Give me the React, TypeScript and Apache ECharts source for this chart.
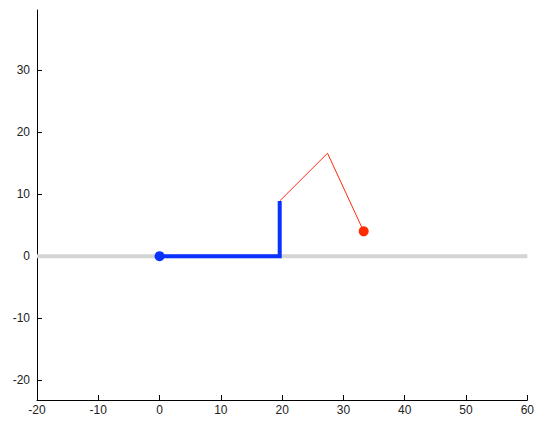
import React, { useEffect, useRef } from "react";
import * as echarts from "echarts";

const xTicks = [-20, -10, 0, 10, 20, 30, 40, 50, 60];
const yTicks = [-20, -10, 0, 10, 20, 30];
const xMin = -20;
const xMax = 60;
const yMin = -23.2;
const yMax = 39.7;
const baseline: [number, number][] = [[-20, 0], [60, 0]];
const bluePath: [number, number][] = [[0, 0], [19.6, 0], [19.6, 8.9]];
const redPath: [number, number][] = [[19.6, 8.9], [27.4, 16.6], [33.3, 4.0]];
const blueDot: [number, number][] = [[0, 0]];
const redDot: [number, number][] = [[33.3, 4.0]];

const TICK = 5;

export default function App() {
  const ref = useRef<HTMLDivElement>(null);
  useEffect(() => {
    if (!ref.current) return;
    const chart = echarts.init(ref.current, undefined, { renderer: "svg" });
    const font = { fontFamily: "Liberation Sans, Arial, sans-serif", fontSize: 12, color: "#222" };
    chart.setOption({
      animation: false,
      backgroundColor: "#fff",
      grid: { left: 37, right: 9, top: 10, bottom: 21 },
      xAxis: {
        type: "value",
        min: xMin,
        max: xMax,
        interval: 10,
        axisLine: { show: true, onZero: false, lineStyle: { color: "#000", width: 1 } },
        axisTick: { show: true, inside: true, length: TICK, customValues: xTicks, lineStyle: { color: "#000", width: 1 } },
        axisLabel: { ...font, margin: 4, customValues: xTicks },
        splitLine: { show: false },
      },
      yAxis: {
        type: "value",
        min: yMin,
        max: yMax,
        axisLine: { show: true, onZero: false, lineStyle: { color: "#000", width: 1 } },
        axisTick: { show: true, inside: true, length: TICK, customValues: yTicks, lineStyle: { color: "#000", width: 1 } },
        axisLabel: { ...font, margin: 7, customValues: yTicks },
        splitLine: { show: false },
      },
      series: [
        {
          type: "line",
          data: baseline,
          symbol: "none",
          lineStyle: { color: "#d4d4d4", width: 4 },
          z: 1,
        },
        {
          type: "line",
          data: redPath,
          symbol: "none",
          lineStyle: { color: "#ff2a10", width: 1 },
          z: 2,
        },
        {
          type: "line",
          data: bluePath,
          symbol: "none",
          lineStyle: { color: "#0a32ff", width: 4, join: "miter" },
          z: 3,
        },
        {
          type: "scatter",
          data: blueDot,
          symbolSize: 10,
          itemStyle: { color: "#0a32ff", opacity: 1 },
          z: 4,
        },
        {
          type: "scatter",
          data: redDot,
          symbolSize: 10,
          itemStyle: { color: "#ff2a00", opacity: 1 },
          z: 4,
        },
      ],
    });
    return () => chart.dispose();
  }, []);
  return <div ref={ref} style={{ width: 537, height: 421, position: "absolute", left: 0, top: 0 }} />;
}
